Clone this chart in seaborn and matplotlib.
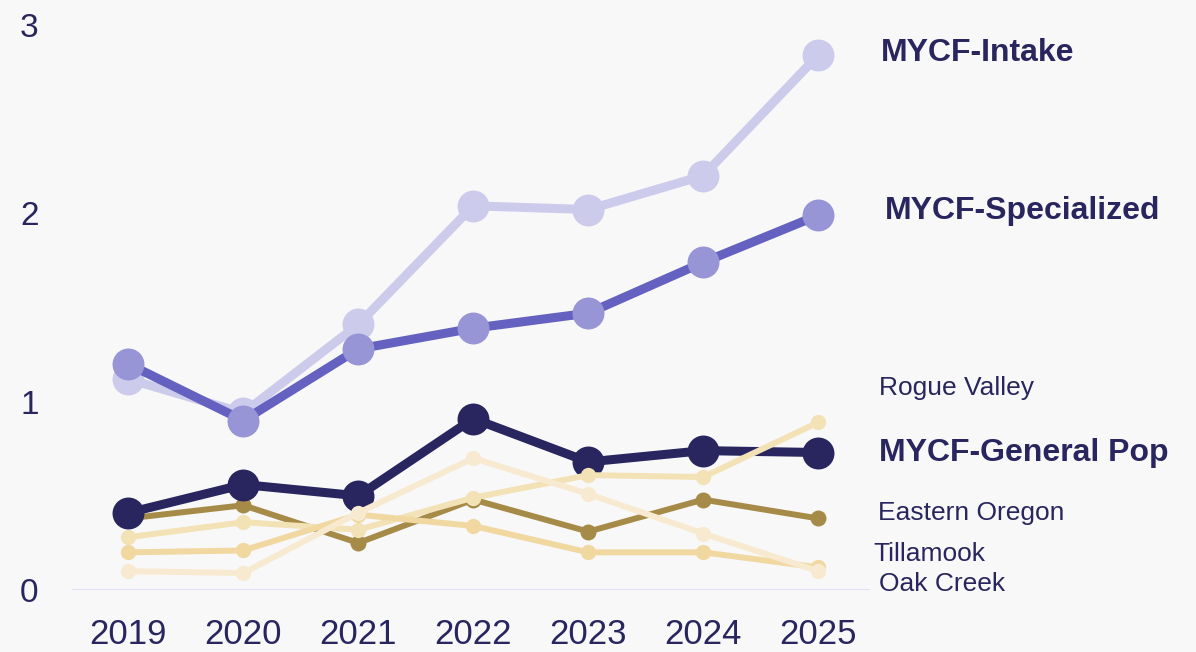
import matplotlib
matplotlib.use("Agg")
import matplotlib.pyplot as plt
import seaborn as sns
import pandas as pd

# ---------------- data ----------------
years = [2019, 2020, 2021, 2022, 2023, 2024, 2025]
series_names = ["Eastern Oregon", "MYCF-General Pop", "Rogue Valley", "Tillamook",
                "Oak Creek", "MYCF-Intake", "MYCF-Specialized"]
eastern_oregon = [0.38, 0.45, 0.25, 0.48, 0.31, 0.48, 0.38]
general_pop = [0.41, 0.56, 0.50, 0.91, 0.68, 0.74, 0.73]
rogue_valley = [0.28, 0.36, 0.32, 0.49, 0.61, 0.60, 0.89]
tillamook = [0.20, 0.21, 0.40, 0.34, 0.20, 0.20, 0.12]
oak_creek = [0.10, 0.09, 0.41, 0.70, 0.51, 0.30, 0.10]
intake = [1.12, 0.94, 1.41, 2.04, 2.02, 2.20, 2.84]
specialized = [1.20, 0.90, 1.28, 1.39, 1.47, 1.74, 1.99]
y_ticks = [0, 1, 2, 3]

values = [eastern_oregon, general_pop, rogue_valley, tillamook, oak_creek, intake, specialized]
df = pd.DataFrame([
    {"series": s, "year": y, "value": v}
    for s, vals in zip(series_names, values)
    for y, v in zip(years, vals)
])

# ---------------- style ----------------
BG = "#f8f8f8"
TXT = "#29265f"
styles = {
    "Eastern Oregon":   dict(color="#a68b48", mfc="#a68b48", lw=4.3, ms=11.5, bold=False),
    "MYCF-General Pop": dict(color="#29265f", mfc="#29265f", lw=6.5, ms=23, bold=True),
    "Rogue Valley":     dict(color="#f3e2b6", mfc="#f3e2b6", lw=4.3, ms=11, bold=False),
    "Tillamook":        dict(color="#f0d8a0", mfc="#f0d8a0", lw=4.3, ms=11, bold=False),
    "Oak Creek":        dict(color="#f7ead0", mfc="#f7ead0", lw=4.3, ms=11, bold=False),
    "MYCF-Intake":      dict(color="#cdcbeb", mfc="#cdcbeb", lw=6.5, ms=23, bold=True),
    "MYCF-Specialized": dict(color="#6461c0", mfc="#9795d6", lw=6.5, ms=23, bold=True),
}
# label placement (layout, in value units)
label_y = {
    "MYCF-Intake": 2.85, "MYCF-Specialized": 2.01, "Rogue Valley": 1.07,
    "MYCF-General Pop": 0.73, "Eastern Oregon": 0.41, "Tillamook": 0.19,
    "Oak Creek": 0.03,
}
label_dx = {
    "MYCF-Intake": 45, "MYCF-Specialized": 48, "Rogue Valley": 44,
    "MYCF-General Pop": 44, "Eastern Oregon": 43, "Tillamook": 40, "Oak Creek": 44,
}

sns.set_theme(style="white")
plt.rcParams["font.family"] = ["Liberation Sans", "DejaVu Sans"]

fig = plt.figure(figsize=(11.96, 6.52), dpi=100, facecolor=BG)
ax = fig.add_axes([72 / 1196, 62 / 652, (870 - 72) / 1196, (590 - 25) / 652])
ax.set_facecolor(BG)

for i, name in enumerate(series_names):
    st = styles[name]
    sub = df[df.series == name]
    sns.lineplot(data=sub, x="year", y="value", ax=ax, color=st["color"],
                 linewidth=st["lw"], marker="o", markersize=st["ms"],
                 markerfacecolor=st["mfc"], markeredgewidth=0,
                 zorder=3 + i, clip_on=False, legend=False)
    ax.annotate(name, xy=(years[-1], label_y[name]),
                xytext=(label_dx[name], 0), textcoords="offset points",
                va="center", ha="left", color=TXT,
                fontsize=23 if st["bold"] else 19,
                fontweight="bold" if st["bold"] else "normal",
                annotation_clip=False)

ax.axhline(0, color="#d9d7f2", lw=1.8, zorder=1)
ax.set_xlim(2018.51, 2025.45)
ax.set_ylim(0, 3)
ax.set_xticks(years)
ax.set_xticklabels([str(y) for y in years])
ax.set_yticks(y_ticks)
ax.set_yticklabels([str(t) for t in y_ticks])
ax.tick_params(axis="x", length=0, pad=20, labelsize=25, labelcolor=TXT)
ax.tick_params(axis="y", length=0, pad=24, labelsize=24, labelcolor=TXT)
ax.set_xlabel("")
ax.set_ylabel("")
for sp in ax.spines.values():
    sp.set_visible(False)
ax.grid(False)

fig.savefig("out.png", dpi=100, facecolor=BG)
